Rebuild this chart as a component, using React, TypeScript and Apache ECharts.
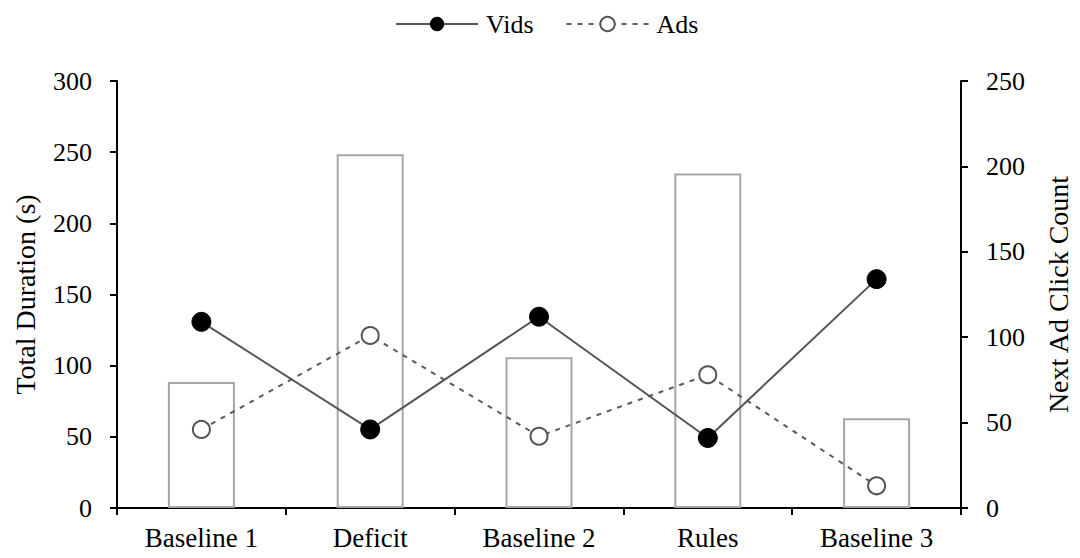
import React, { useEffect, useRef } from "react";
import * as echarts from "echarts";

const categories = ["Baseline 1", "Deficit", "Baseline 2", "Rules", "Baseline 3"];
const totalDuration = [88.5, 248.5, 106, 235, 63];
const vidsClicks = [109, 46, 112, 41, 134];
const adsClicks = [46, 101, 42, 78, 13];

const FONT = "'Liberation Serif', 'Times New Roman', serif";

export default function App() {
  const ref = useRef<HTMLDivElement>(null);
  useEffect(() => {
    if (!ref.current) return;
    const chart = echarts.init(ref.current, null, { renderer: "svg" });
    chart.setOption({
      animation: false,
      textStyle: { fontFamily: FONT, color: "#000" },
      legend: {
        top: 6,
        left: 390,
        itemWidth: 82,
        itemHeight: 18,
        itemGap: 32,
        textStyle: { fontFamily: FONT, fontSize: 26, color: "#000", padding: [0, 0, 0, 3] },
        data: ["Vids", "Ads"],
      },
      grid: { left: 117, right: 113, top: 81, bottom: 50, containLabel: false },
      xAxis: {
        type: "category",
        data: categories,
        boundaryGap: true,
        axisLine: { lineStyle: { color: "#000", width: 2 } },
        axisTick: { show: true, length: 7, lineStyle: { color: "#000", width: 2 } },
        axisLabel: { color: "#000", fontSize: 27, fontFamily: FONT, margin: 16 },
      },
      yAxis: [
        {
          type: "value",
          min: 0,
          max: 300,
          interval: 50,
          name: "Total Duration (s)",
          nameLocation: "middle",
          nameGap: 78,
          nameTextStyle: { fontSize: 28, fontFamily: FONT, color: "#000" },
          axisLine: { show: true, lineStyle: { color: "#000", width: 2 } },
          axisTick: { show: true, length: 7, lineStyle: { color: "#000", width: 2 } },
          axisLabel: { color: "#000", fontSize: 26, fontFamily: FONT, margin: 25 },
          splitLine: { show: false },
        },
        {
          type: "value",
          min: 0,
          max: 250,
          interval: 50,
          position: "right",
          name: "Next Ad Click Count",
          nameLocation: "middle",
          nameGap: 83,
          nameRotate: 90,
          nameTextStyle: { fontSize: 28, fontFamily: FONT, color: "#000" },
          axisLine: { show: true, lineStyle: { color: "#000", width: 2 } },
          axisTick: { show: true, length: 7, lineStyle: { color: "#000", width: 2 } },
          axisLabel: { color: "#000", fontSize: 26, fontFamily: FONT, margin: 25 },
          splitLine: { show: false },
        },
      ],
      series: [
        {
          name: "Total Duration",
          type: "bar",
          yAxisIndex: 0,
          data: totalDuration,
          barWidth: 67,
          itemStyle: { color: "rgba(255,255,255,0)", borderColor: "#a6a6a6", borderWidth: 2 },
          z: 1,
        },
        {
          name: "Vids",
          type: "line",
          yAxisIndex: 1,
          data: vidsClicks,
          symbol: "circle",
          symbolSize: 19,
          lineStyle: { color: "#555", width: 2 },
          itemStyle: { color: "#000", borderColor: "#000" },
          z: 3,
        },
        {
          name: "Ads",
          type: "line",
          yAxisIndex: 1,
          data: adsClicks,
          symbol: "emptyCircle",
          symbolSize: 17,
          lineStyle: { color: "#5a5a5a", width: 2, type: [5, 6] },
          itemStyle: { color: "#555", borderColor: "#555", borderWidth: 1.5 },
          z: 2,
        },
      ],
    });
    return () => chart.dispose();
  }, []);
  return <div ref={ref} style={{ width: 1080, height: 558, position: "absolute", left: 0, top: 0, background: "#fff" }} />;
}
